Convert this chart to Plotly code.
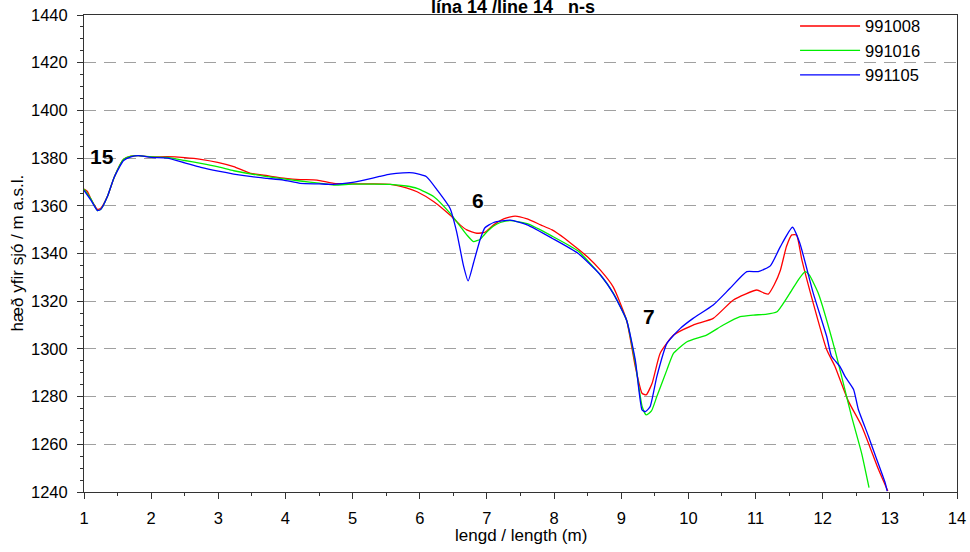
import plotly.graph_objects as go

# Series 991008 (red)
x_991008 = [1.0, 1.05, 1.1, 1.2, 1.25, 1.35, 1.45, 1.59, 1.7, 1.81, 2.0, 2.24, 2.5, 2.74, 2.99, 3.23, 3.48, 3.73,
            4.0, 4.22, 4.47, 4.72, 5.0, 5.3, 5.56, 5.8, 5.96, 6.21, 6.45, 6.6, 6.7, 6.85, 6.97, 7.1, 7.25, 7.42,
            7.6, 7.8, 7.97, 8.15, 8.31, 8.5, 8.69, 8.88, 9.08, 9.21, 9.31, 9.37, 9.46, 9.58, 9.78, 10.07, 10.37,
            10.67, 11.02, 11.12, 11.19, 11.28, 11.37, 11.46, 11.54, 11.61, 11.69, 11.86, 12.06, 12.18, 12.38,
            12.58, 12.83, 12.97]
y_991008 = [1367, 1366, 1363, 1358.5, 1359, 1364, 1372, 1379.5, 1380.8, 1381, 1380.5, 1380.6, 1380.2, 1379.5,
            1378.2, 1376.4, 1373.6, 1372.6, 1371.5, 1371, 1370.8, 1369.4, 1369.2, 1369.2, 1369, 1367.5, 1365.9,
            1361.7, 1356.1, 1352, 1349.9, 1348.5, 1348.9, 1352, 1354.5, 1355.7, 1354.5, 1352, 1349.9, 1346.5,
            1342.9, 1338.5, 1333, 1326, 1312, 1292.5, 1281.4, 1280.7, 1285.6, 1298.2, 1305.8, 1310, 1312.8,
            1320.5, 1324.7, 1323.5, 1323, 1327, 1333, 1342.9, 1347.8, 1347.8, 1337.3, 1319.1, 1299.6, 1292.8,
            1278.2, 1267.7, 1249.5, 1240.4]

# Series 991016 (green)
x_991016 = [1.0, 1.1, 1.2, 1.25, 1.35, 1.45, 1.59, 1.7, 1.81, 2.0, 2.24, 2.5, 2.74, 3.0, 3.23, 3.5, 3.73, 4.0,
            4.22, 4.5, 4.72, 5.0, 5.3, 5.56, 5.8, 5.96, 6.21, 6.45, 6.6, 6.7, 6.8, 6.9, 6.97, 7.1, 7.2, 7.35, 7.6,
            7.97, 8.36, 8.69, 8.88, 9.08, 9.21, 9.31, 9.37, 9.45, 9.53, 9.68, 9.78, 9.98, 10.27, 10.52, 10.77,
            10.97, 11.15, 11.32, 11.51, 11.65, 11.74, 11.8, 11.93, 12.18, 12.43, 12.58, 12.69]
y_991016 = [1367, 1363, 1358, 1358.5, 1364, 1372, 1379.5, 1380.8, 1381, 1380.5, 1380.3, 1379, 1377.8, 1376.3,
            1374.7, 1373.3, 1372.2, 1371.2, 1370.4, 1369.5, 1368.7, 1369.1, 1369.1, 1369, 1368.3, 1367.3, 1363.8,
            1356.9, 1351.5, 1347.8, 1345, 1346, 1348.2, 1351.5, 1353, 1353.8, 1352.5, 1347.3, 1341, 1331, 1323.5,
            1312, 1294, 1276, 1272.3, 1274, 1280, 1291.2, 1298.2, 1303, 1305.8, 1310, 1313.5, 1314.2, 1314.5,
            1315.6, 1323.3, 1329.5, 1332.4, 1331, 1323.6, 1299.8, 1271.7, 1256.2, 1241.8]

# Series 991105 (blue)
x_991105 = [1.0, 1.1, 1.2, 1.25, 1.35, 1.45, 1.59, 1.7, 1.81, 2.0, 2.24, 2.5, 2.74, 3.0, 3.23, 3.5, 3.73, 3.97,
            4.22, 4.5, 4.71, 5.0, 5.2, 5.4, 5.56, 5.75, 5.9, 6.1, 6.26, 6.45, 6.55, 6.65, 6.72, 6.8, 6.9, 6.97,
            7.1, 7.35, 7.6, 7.97, 8.36, 8.69, 8.88, 9.08, 9.21, 9.31, 9.36, 9.43, 9.53, 9.68, 9.88, 10.07, 10.37,
            10.62, 10.87, 11.04, 11.22, 11.37, 11.55, 11.66, 11.86, 12.06, 12.13, 12.26, 12.33, 12.46, 12.53,
            12.68, 12.75, 12.93, 12.96]
y_991105 = [1366.5, 1362.5, 1358, 1358.5, 1364, 1372, 1379, 1380.5, 1381, 1380.3, 1380, 1378, 1376.1, 1374.5,
            1373.3, 1372.2, 1371.5, 1370.8, 1369.4, 1369.2, 1369, 1369.8, 1371, 1372.3, 1373.3, 1373.8, 1373.8,
            1372.2, 1366.6, 1359, 1349, 1335, 1328.5, 1336, 1346, 1350.8, 1353, 1354, 1352, 1346.4, 1340, 1331,
            1323.3, 1312, 1295.3, 1274.4, 1273.7, 1275.8, 1288.4, 1302.3, 1308.6, 1312.8, 1318.4, 1325.4, 1332.4,
            1332.4, 1334.8, 1342.9, 1351, 1344.3, 1323.3, 1305.2, 1297, 1292.5, 1288.6, 1283, 1274.7, 1263.5,
            1257.9, 1243.9, 1240.4]

series_names = ["991008", "991016", "991105"]
series_colors = ["#ff0000", "#00ee00", "#0000ff"]

# Profile labels
label_text = ["15", "6", "7"]
label_x = [1.27, 6.86, 9.41]
label_y = [1380.8, 1362.4, 1313.4]

x_ticks = list(range(1, 15))
y_ticks = list(range(1240, 1441, 20))

x_title = "lengd / length (m)"
y_title = "hæð yfir sjó / m a.s.l."
chart_title = "lína 14 /line 14\u00a0\u00a0\u00a0n-s"

FONT = "Liberation Sans, Arial"

fig = go.Figure()
for name, color, xs, ys in zip(series_names, series_colors,
                               [x_991008, x_991016, x_991105],
                               [y_991008, y_991016, y_991105]):
    fig.add_trace(go.Scatter(x=xs, y=ys, mode="lines", name=name,
                             line=dict(color=color, width=1.3, shape="spline", smoothing=0.5)))

for t, xx, yy in zip(label_text, label_x, label_y):
    fig.add_annotation(x=xx, y=yy, text="<b>" + t + "</b>", showarrow=False,
                       font=dict(size=21, color="black", family=FONT))

# axis titles placed as annotations for precise positioning
fig.add_annotation(xref="paper", yref="paper", x=0, y=0.5, xanchor="center", yanchor="middle",
                   xshift=-67, textangle=-90, text=y_title, showarrow=False,
                   font=dict(size=17, color="black", family=FONT))
fig.add_annotation(xref="paper", yref="paper", x=0.5, y=0, xanchor="center", yanchor="middle",
                   yshift=-43, text=x_title, showarrow=False,
                   font=dict(size=17, color="black", family=FONT))

axis_common = dict(showline=True, linecolor="#333333", linewidth=1, mirror=True,
                   ticks="outside", ticklen=6, tickcolor="#333333", zeroline=False,
                   automargin=False, tickfont=dict(size=16.5, color="black", family=FONT))

fig.update_xaxes(range=[1, 14], tickvals=x_ticks, showgrid=False, ticklabelstandoff=5,
                 minor=dict(ticks="outside", ticklen=3, dtick=0.5, tickcolor="#333333"),
                 **axis_common)
fig.update_yaxes(range=[1240, 1440], tickvals=y_ticks, showgrid=True, gridcolor="#a0a0a0",
                 griddash="12px,8px", gridwidth=1, ticklabelstandoff=6,
                 minor=dict(ticks="outside", ticklen=3, dtick=5, tickcolor="#333333", showgrid=False),
                 **axis_common)

fig.update_layout(
    width=970, height=552,
    margin=dict(l=84, r=13, t=15, b=60, autoexpand=False),
    paper_bgcolor="white", plot_bgcolor="white",
    font=dict(family=FONT, color="black"),
    title=dict(text="<b>" + chart_title + "</b>", x=513 / 970, xanchor="center",
               y=1.0, yanchor="top", yref="container", automargin=False, pad=dict(t=0, b=0),
               font=dict(size=18, color="black", family=FONT)),
    legend=dict(x=0.8145, y=1.013, xanchor="left", yanchor="top", bgcolor="rgba(255,255,255,0)",
                font=dict(size=16.5, color="black", family=FONT), itemwidth=60, tracegroupgap=0),
    showlegend=True,
)

fig.write_html("out.html", config={"displayModeBar": False},
               post_script="document.body.style.margin='0';document.body.style.overflow='hidden';")
